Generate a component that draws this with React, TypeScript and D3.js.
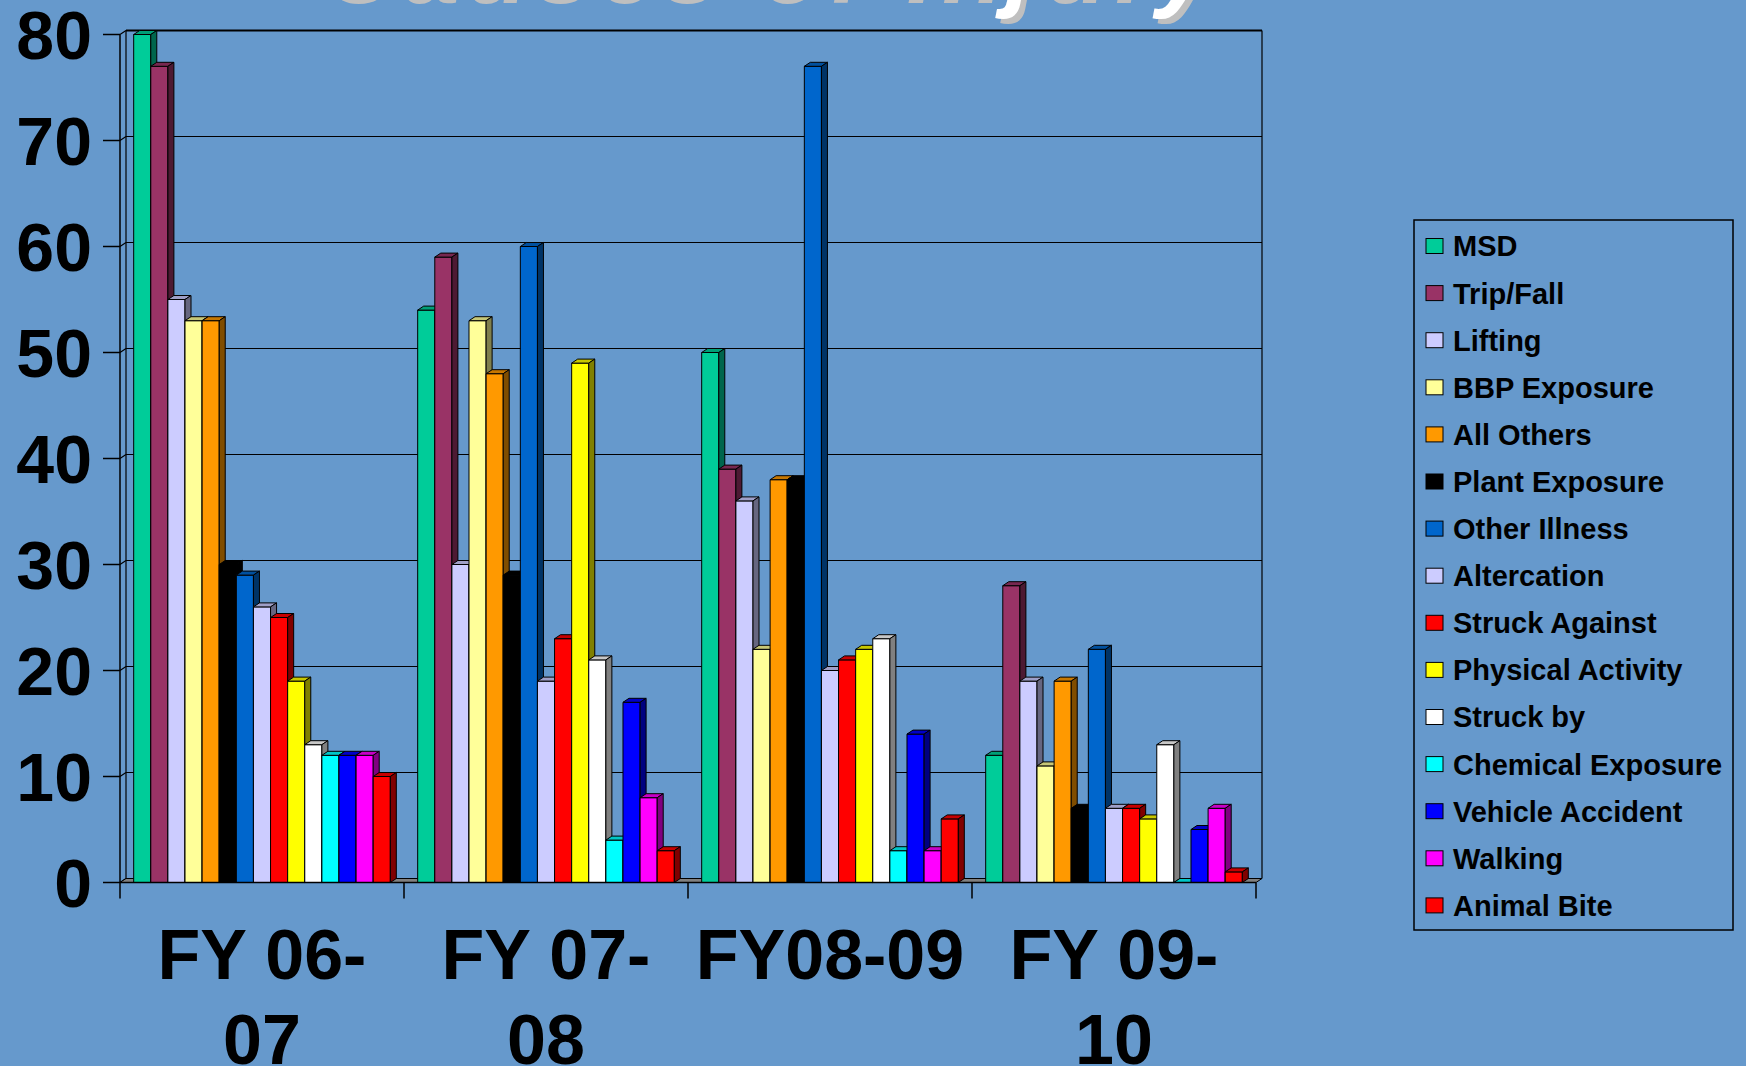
import React, { useEffect, useRef } from 'react';
import * as d3 from 'd3';

const title = 'Causes of Injury';
const categories = ['FY 06-07', 'FY 07-08', 'FY08-09', 'FY 09-10'];
const series = [
  'MSD', 'Trip/Fall', 'Lifting', 'BBP Exposure', 'All Others', 'Plant Exposure', 'Other Illness',
  'Altercation', 'Struck Against', 'Physical Activity', 'Struck by', 'Chemical Exposure',
  'Vehicle Accident', 'Walking', 'Animal Bite',
];
const seriesColors = [
  '#00cc99', '#993366', '#ccccff', '#ffff99', '#ff9900', '#000000', '#0066cc',
  '#ccccff', '#ff0000', '#ffff00', '#ffffff', '#00ffff', '#0000ff', '#ff00ff', '#ff0000',
];

// counts per series, in the same order as `series`
const fy0607 = [80, 77, 55, 53, 53, 30, 29, 26, 25, 19, 13, 12, 12, 12, 10];
const fy0708 = [54, 59, 30, 53, 48, 29, 60, 19, 23, 49, 21, 4, 17, 8, 3];
const fy0809 = [50, 39, 36, 22, 38, 38, 77, 20, 21, 22, 23, 3, 14, 3, 6];
const fy0910 = [12, 28, 19, 11, 19, 7, 22, 7, 7, 6, 13, 0, 5, 7, 1];
const yTicks = [0, 10, 20, 30, 40, 50, 60, 70, 80];

const W = 1746;
const H = 1066;
const BG = '#6699cc';
const FONT = '"Liberation Sans", Arial, Helvetica, sans-serif';

const shade = (c: string, k: number) => {
  const r = d3.rgb(c);
  return d3.rgb(r.r * k, r.g * k, r.b * k).formatHex();
};

// "FY 06-07" -> ["FY 06-", "07"], "FY08-09" stays on one line
const labelLines = (label: string) => {
  if (!label.includes(' ')) return [label];
  const cut = label.lastIndexOf('-') + 1;
  return [label.slice(0, cut), label.slice(cut)];
};

const App: React.FC = () => {
  const svgRef = useRef<SVGSVGElement>(null);

  useEffect(() => {
    if (!svgRef.current) return;
    const svg = d3.select(svgRef.current);
    svg.selectAll('*').remove();

    const values = [fy0607, fy0708, fy0809, fy0910];
    const left = 120;
    const right = 1256;
    const dx = 6;
    const dy = 4;

    const x0 = d3.scaleBand<string>().domain(categories).range([left, right]);
    const x1 = d3.scaleBand<string>().domain(series).range([0, x0.bandwidth()]).paddingOuter(0.8);
    const y = d3.scaleLinear().domain([0, 80]).range([882.5, 34.5]);
    const y0 = y(0);

    svg.append('rect').attr('width', W).attr('height', H).attr('fill', BG);

    // title, almost entirely cropped off the top of the slide (only descenders show)
    const t = svg.append('g')
      .attr('font-family', FONT).attr('font-style', 'italic').attr('font-weight', 'bold')
      .attr('font-size', 100).attr('letter-spacing', 7.7);
    t.append('text').attr('x', 324).attr('y', 3).attr('fill', '#bfbfbf').text(title);
    t.append('text').attr('x', 319).attr('y', -2).attr('fill', '#ffffff').text(title);

    // back wall gridlines
    svg.append('g').selectAll('line')
      .data(yTicks.filter(d => d > 0))
      .join('line')
      .attr('x1', left + dx).attr('x2', right + dx)
      .attr('y1', d => y(d) - dy).attr('y2', d => y(d) - dy)
      .attr('stroke', '#000').attr('stroke-width', d => (d === 80 ? 2 : 1.2));
    svg.append('line')
      .attr('x1', right + dx).attr('x2', right + dx)
      .attr('y1', y(80) - dy).attr('y2', y0 - dy)
      .attr('stroke', '#000').attr('stroke-width', 1.2);

    // left wall
    svg.append('line')
      .attr('x1', left + dx).attr('x2', left + dx)
      .attr('y1', y(80) - dy).attr('y2', y0 - dy)
      .attr('stroke', '#000').attr('stroke-width', 1.2);
    svg.append('g').selectAll('line')
      .data(yTicks)
      .join('line')
      .attr('x1', left).attr('x2', left + dx)
      .attr('y1', d => y(d)).attr('y2', d => y(d) - dy)
      .attr('stroke', '#000').attr('stroke-width', 1.2);

    // floor
    svg.append('polygon')
      .attr('points', [[left, y0], [right, y0], [right + dx, y0 - dy], [left + dx, y0 - dy]].join(' '))
      .attr('fill', '#808080').attr('stroke', '#000').attr('stroke-width', 1);

    // 3D columns, drawn left to right so each front covers the previous side face
    const bars = svg.append('g').attr('stroke', '#000').attr('stroke-width', 1).attr('stroke-linejoin', 'round');
    categories.forEach((cat, ci) => {
      series.forEach((s, si) => {
        const v = values[ci][si];
        const bx = (x0(cat) ?? 0) + (x1(s) ?? 0);
        const w = x1.bandwidth();
        const yv = y(v);
        const c = seriesColors[si];
        bars.append('rect').attr('x', bx).attr('y', yv).attr('width', w).attr('height', y0 - yv).attr('fill', c);
        bars.append('polygon')
          .attr('points', [[bx, yv], [bx + dx, yv - dy], [bx + w + dx, yv - dy], [bx + w, yv]].join(' '))
          .attr('fill', shade(c, 0.78));
        bars.append('polygon')
          .attr('points', [[bx + w, yv], [bx + w + dx, yv - dy], [bx + w + dx, y0 - dy], [bx + w, y0]].join(' '))
          .attr('fill', shade(c, 0.5));
      });
    });

    // front axes
    svg.append('line').attr('x1', left).attr('x2', left).attr('y1', y(80)).attr('y2', y0)
      .attr('stroke', '#000').attr('stroke-width', 1.5);
    svg.append('g').selectAll('line')
      .data(yTicks)
      .join('line')
      .attr('x1', left - 17).attr('x2', left)
      .attr('y1', d => y(d)).attr('y2', d => y(d))
      .attr('stroke', '#000').attr('stroke-width', 1.5);
    svg.append('line').attr('x1', left).attr('x2', right).attr('y1', y0).attr('y2', y0)
      .attr('stroke', '#000').attr('stroke-width', 1.5);
    svg.append('g').selectAll('line')
      .data([...categories.map(c => x0(c) ?? 0), right])
      .join('line')
      .attr('x1', d => d).attr('x2', d => d)
      .attr('y1', y0).attr('y2', y0 + 16)
      .attr('stroke', '#000').attr('stroke-width', 1.5);

    // y tick labels
    svg.append('g').selectAll('text')
      .data(yTicks)
      .join('text')
      .attr('x', 92).attr('y', d => y(d)).attr('dy', '0.36em')
      .attr('text-anchor', 'end')
      .attr('font-family', FONT).attr('font-weight', 'bold').attr('font-size', 68)
      .text(d => d);

    // category labels
    const cl = svg.append('g')
      .attr('font-family', FONT).attr('font-weight', 'bold').attr('font-size', 70)
      .attr('text-anchor', 'middle');
    categories.forEach(cat => {
      const cx = (x0(cat) ?? 0) + x0.bandwidth() / 2;
      labelLines(cat).forEach((line, li) => {
        cl.append('text').attr('x', cx).attr('y', 979 + li * 85).text(line);
      });
    });

    // legend
    const lg = svg.append('g');
    lg.append('rect').attr('x', 1414).attr('y', 220).attr('width', 319).attr('height', 710)
      .attr('fill', 'none').attr('stroke', '#000').attr('stroke-width', 1.5);
    const rows = lg.selectAll('g.row')
      .data(series)
      .join('g')
      .attr('class', 'row')
      .attr('transform', (_, i) => `translate(0,${246 + i * 47.1})`);
    rows.append('rect').attr('x', 1426).attr('y', -7.5).attr('width', 17).attr('height', 15)
      .attr('fill', (_, i) => seriesColors[i]).attr('stroke', '#000').attr('stroke-width', 1);
    rows.append('text').attr('x', 1453).attr('dy', '0.36em')
      .attr('font-family', FONT).attr('font-weight', 'bold').attr('font-size', 29)
      .text(d => d);
  }, []);

  return (
    <svg
      ref={svgRef}
      width={W}
      height={H}
      style={{ position: 'absolute', left: 0, top: 0, display: 'block' }}
    />
  );
};

export default App;
